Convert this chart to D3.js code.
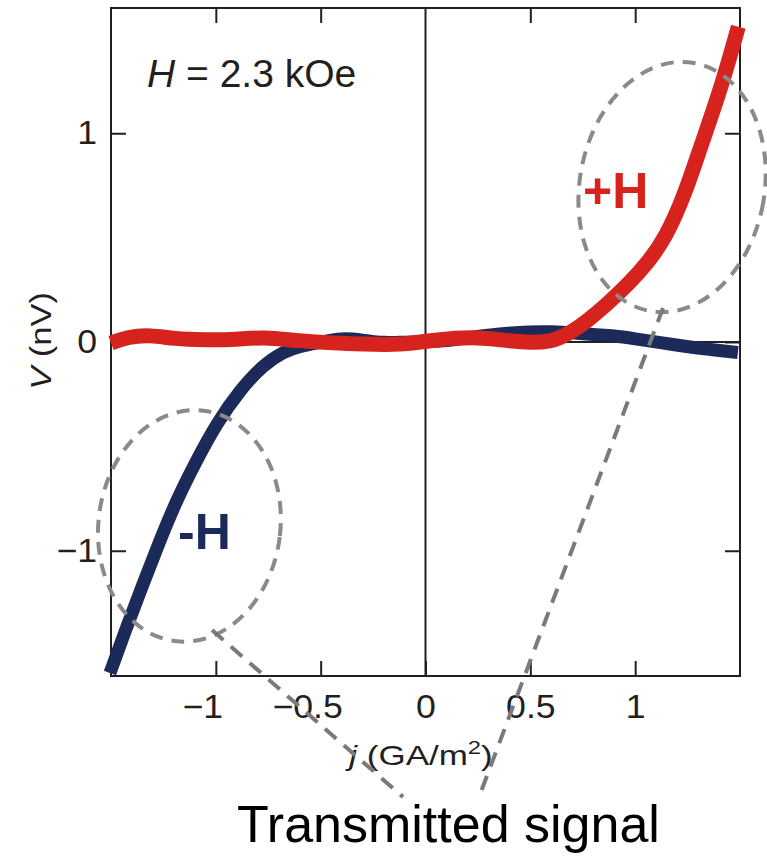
<!DOCTYPE html>
<html><head><meta charset="utf-8">
<script src="https://cdn.jsdelivr.net/npm/d3@7"></script>
<style>html,body{margin:0;padding:0;background:#fff;} svg{display:block;}</style>
</head><body><svg id="c" width="767" height="856"></svg>
<script>
// ---- data ----
const xTicks = [-1, -0.5, 0, 0.5, 1];
const yTicks = [-1, 0, 1];

// +H trace (red)
const redJ = [-1.50, -1.42, -1.31, -1.20, -1.05, -0.90, -0.78, -0.60, -0.44, -0.30, -0.12, 0.04, 0.23, 0.355, 0.513, 0.60, 0.64, 0.70, 0.77, 0.865, 0.97, 1.06, 1.146, 1.238, 1.31, 1.405, 1.492];
const redV = [-0.005, 0.025, 0.034, 0.015, 0.01, 0.012, 0.024, 0.005, -0.005, -0.01, -0.015, 0.01, 0.025, 0.01, -0.005, 0.005, 0.02, 0.05, 0.10, 0.18, 0.28, 0.38, 0.50, 0.71, 0.93, 1.20, 1.51];

// -H trace (navy)
const blueJ = [-1.505, -1.425, -1.346, -1.266, -1.187, -1.091, -0.996, -0.885, -0.774, -0.678, -0.60, -0.50, -0.40, -0.30, -0.20, -0.10, 0.00, 0.10, 0.20, 0.355, 0.50, 0.60, 0.70, 0.80, 0.90, 1.00, 1.10, 1.23, 1.35, 1.49];
const blueV = [-1.586, -1.364, -1.156, -0.949, -0.757, -0.565, -0.390, -0.230, -0.110, -0.046, -0.02, 0.0, 0.02, 0.01, -0.005, 0.0, 0.0, 0.005, 0.02, 0.04, 0.05, 0.05, 0.045, 0.035, 0.03, 0.015, 0.0, -0.02, -0.035, -0.05];

// annotation ellipses in data units: centre j, centre V, radius j, radius V, tilt
const ellJ = [-1.126, 1.176];
const ellV = [-0.881, 0.7425];
const ellRJ = [0.434, 0.441];
const ellRV = [0.556, 0.6036];
const ellTilt = [7, 10];

// connector lines (data units) from ellipse to caption
const conJ1 = [-1.018, 1.133];
const conV1 = [-1.38, 0.163];
const conJ2 = [-0.107, 0.255];
const conV2 = [-2.18, -2.18];

// ---- layout ----
const L = 111, R = 740, T = 8, B = 676;
const FONT = '"Liberation Sans", Arial, Helvetica, sans-serif';
const INK = '#231f20';
const RED = '#d7231e', NAVY = '#1c2a5a', GRAY = '#8a8a8a';

const svg = d3.select('#c');
const x = d3.scaleLinear().domain([-1.5, 1.5]).range([L, R]);
const y = d3.scaleLinear().domain([-1.6, 1.6]).range([B, T]);

const fmt = d => d3.format('')(d);

// zero lines
svg.append('line').attr('x1', x(0)).attr('x2', x(0)).attr('y1', T).attr('y2', B)
  .attr('stroke', INK).attr('stroke-width', 2);
svg.append('line').attr('x1', L).attr('x2', R).attr('y1', y(0)).attr('y2', y(0))
  .attr('stroke', INK).attr('stroke-width', 2);

// axes
const TS = 1.08;
const gx = svg.append('g').attr('transform', `translate(0,${B})`)
  .call(d3.axisBottom(x).tickValues(xTicks).tickSize(-15).tickSizeOuter(0).tickPadding(19).tickFormat(fmt));
gx.selectAll('text').attr('dx', d => d < 0 ? '-0.38em' : 0);
const gy = svg.append('g').attr('transform', `translate(${L},0)`)
  .call(d3.axisLeft(y).tickValues(yTicks).tickSize(-15).tickSizeOuter(0).tickPadding(14).tickFormat(fmt));
gy.selectAll('text').attr('x', -14 / TS);
const gt = svg.append('g').attr('transform', `translate(0,${T})`)
  .call(d3.axisTop(x).tickValues(xTicks.filter(d => d !== 0)).tickSize(-15).tickSizeOuter(0).tickFormat(''));
const gr = svg.append('g').attr('transform', `translate(${R},0)`)
  .call(d3.axisRight(y).tickValues(yTicks).tickSize(-15).tickSizeOuter(0).tickFormat(''));
[gx, gy, gt, gr].forEach(g => {
  g.select('.domain').remove();
  g.selectAll('line').attr('stroke', INK).attr('stroke-width', 2);
  g.selectAll('text').attr('fill', INK).style('font-family', FONT).style('font-size', '33px')
    .attr('transform', `scale(${TS},1)`);
});

// frame
svg.append('rect').attr('x', L).attr('y', T).attr('width', R - L).attr('height', B - T)
  .attr('fill', 'none').attr('stroke', INK).attr('stroke-width', 2);

// traces
const line = d3.line().x(d => x(d[0])).y(d => y(d[1])).curve(d3.curveBasis);
svg.append('path').datum(blueJ.map((j, i) => [j, blueV[i]])).attr('d', line)
  .attr('fill', 'none').attr('stroke', NAVY).attr('stroke-width', 13).attr('stroke-linejoin', 'round');
svg.append('path').datum(redJ.map((j, i) => [j, redV[i]])).attr('d', line)
  .attr('fill', 'none').attr('stroke', RED).attr('stroke-width', 15).attr('stroke-linejoin', 'round');

// labels inside plot
svg.append('text').attr('x', x(-1.328)).attr('y', y(1.2216))
  .style('font-family', FONT).style('font-size', '39px').attr('fill', INK)
  .call(t => { t.append('tspan').style('font-style', 'italic').text('H'); t.append('tspan').text(' = 2.3 kOe'); });
svg.append('text').attr('x', x(0.751)).attr('y', y(0.642))
  .style('font-family', FONT).style('font-size', '50px').style('font-weight', 'bold').attr('fill', RED).text('+H');
svg.append('text').attr('x', x(-1.18)).attr('y', y(-0.992))
  .style('font-family', FONT).style('font-size', '50px').style('font-weight', 'bold').attr('fill', NAVY).text('-H');

// axis titles
svg.append('text').attr('transform', 'translate(51,341) rotate(-90) scale(1.15,1)')
  .attr('text-anchor', 'middle').style('font-family', FONT).style('font-size', '30px').attr('fill', INK)
  .call(t => { t.append('tspan').style('font-style', 'italic').text('V'); t.append('tspan').text(' (nV)'); });
svg.append('text').attr('transform', 'translate(421,765) scale(1.25,1)')
  .attr('text-anchor', 'middle').style('font-family', FONT).style('font-size', '28px').attr('fill', INK)
  .call(t => {
    t.append('tspan').style('font-style', 'italic').text('j');
    t.append('tspan').text(' (GA/m');
    t.append('tspan').attr('dy', -11).style('font-size', '19px').text('2');
    t.append('tspan').attr('dy', 11).text(')');
  });

// annotations
ellJ.forEach((cj, i) => {
  const cx = x(cj), cy = y(ellV[i]);
  svg.append('ellipse').attr('cx', cx).attr('cy', cy)
    .attr('rx', x(cj + ellRJ[i]) - cx).attr('ry', cy - y(ellV[i] + ellRV[i]))
    .attr('transform', `rotate(${ellTilt[i]},${cx},${cy})`)
    .attr('fill', 'none').attr('stroke', GRAY).attr('stroke-width', 4).attr('stroke-dasharray', '13,9');
});
conJ1.forEach((j1, i) => {
  svg.append('line').attr('x1', x(j1)).attr('y1', y(conV1[i])).attr('x2', x(conJ2[i])).attr('y2', y(conV2[i]))
    .attr('stroke', '#7a7a7a').attr('stroke-width', 4).attr('stroke-dasharray', '15,10');
});

svg.append('text').attr('x', 237).attr('y', 842)
  .style('font-family', FONT).style('font-size', '52px').attr('fill', '#000').text('Transmitted signal');
</script></body></html>
